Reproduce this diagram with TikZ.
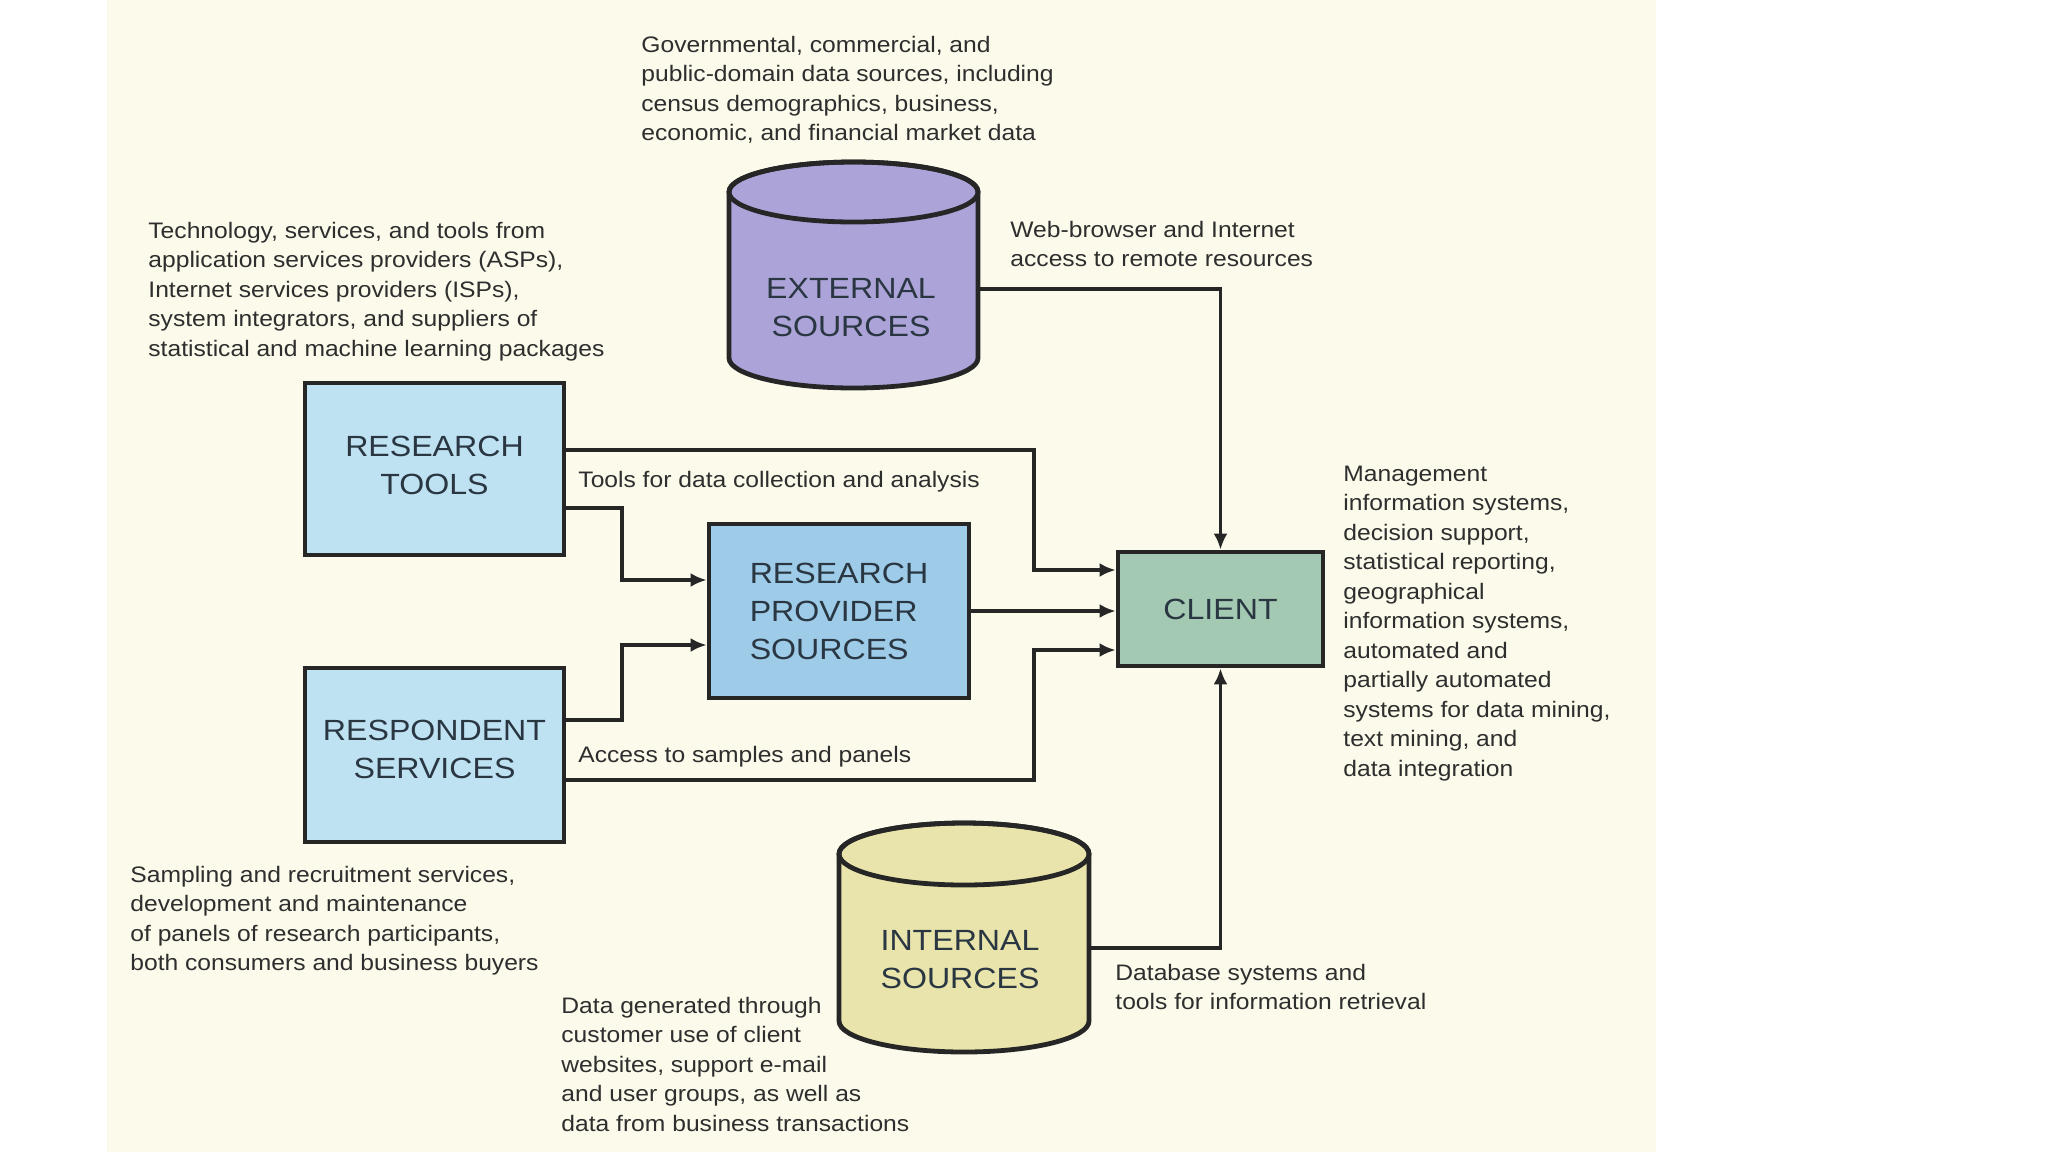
\documentclass[tikz,border=0pt]{standalone}
\usepackage{fontspec}
\setmainfont{Liberation Sans}[FakeStretch=1.1]
\usetikzlibrary{arrows.meta}
\definecolor{cream}{HTML}{FCFAEA}
\definecolor{rtblue}{HTML}{BFE2F3}
\definecolor{rpsblue}{HTML}{9DCBE8}
\definecolor{clientgreen}{HTML}{A3C9B2}
\definecolor{extpurple}{HTML}{ACA4D8}
\definecolor{intyellow}{HTML}{E8E4AB}
\definecolor{edge}{HTML}{262626}
\definecolor{txt}{HTML}{2E2E2E}
\definecolor{boxtxt}{HTML}{2A3742}
\begin{document}
\begin{tikzpicture}[x=0.5pt,y=-0.5pt,
  note/.style={anchor=north west, inner sep=0pt, align=left, font=\fontsize{11.2}{14.75}\selectfont, text=txt},
  box/.style={draw=edge, line width=2.4pt, inner sep=0pt, align=center, font=\fontsize{14.6}{19}\selectfont, text=boxtxt},
  cyltext/.style={inner sep=0pt, align=center, font=\fontsize{14.6}{19}\selectfont, text=boxtxt},
  cylbody/.style={draw=edge, line width=2.4pt},
  conn/.style={draw=edge, line width=1.8pt, -{Latex[length=8pt,width=7pt]}}]

\useasboundingbox (0,0) rectangle (2048,1152);
\fill[white] (0,0) rectangle (2048,1152);
\fill[cream] (107,0) rectangle (1656,1152);

% External sources cylinder
\filldraw[cylbody, fill=extpurple] (729,192) -- (729,358) arc[start angle=180,end angle=0,x radius=124.5,y radius=30] -- (978,192) arc[start angle=0,end angle=-180,x radius=124.5,y radius=30] -- cycle;
\draw[cylbody] (853.5,192) ellipse [x radius=124.5, y radius=30];
\node[cyltext] (ext) at (851,308) {EXTERNAL\\SOURCES};
\coordinate (ext-out) at (978,289);

% Internal sources cylinder
\filldraw[cylbody, fill=intyellow] (839,854) -- (839,1021) arc[start angle=180,end angle=0,x radius=125,y radius=31] -- (1089,854) arc[start angle=0,end angle=-180,x radius=125,y radius=31] -- cycle;
\draw[cylbody] (964,854) ellipse [x radius=125, y radius=31];
\node[cyltext] (int) at (960,960) {INTERNAL\\SOURCES};
\coordinate (int-out) at (1089,948);

% Boxes
\node[box, fill=rtblue, minimum width=129.5pt, minimum height=86pt, text depth=4pt] (rt) at (434.5,469) {RESEARCH\\TOOLS};
\node[box, fill=rtblue, minimum width=129.5pt, minimum height=87pt, text depth=6pt] (rs) at (434.5,755) {RESPONDENT\\SERVICES};
\node[box, fill=rpsblue, minimum width=130pt, minimum height=87pt, align=left] (rps) at (839,611) {RESEARCH\\PROVIDER\\SOURCES};
\node[box, fill=clientgreen, minimum width=102.5pt, minimum height=57pt] (client) at (1220.5,609) {CLIENT};

% helper levels
\coordinate (h450) at (0,450);
\coordinate (h570) at (0,570);
\coordinate (h508) at (0,508);
\coordinate (h580) at (0,580);
\coordinate (h720) at (0,720);
\coordinate (h645) at (0,645);
\coordinate (h780) at (0,780);
\coordinate (h650) at (0,650);

% Connectors
\draw[conn] (ext-out) -| (client.north);
\draw[conn] (int-out) -| (client.south);
\draw[conn] (rt.east |- h450) -- (1034,450) -- (1034,570) -- (client.west |- h570);
\draw[conn] (rt.east |- h508) -- (622,508) -- (622,580) -- (rps.west |- h580);
\draw[conn] (rs.east |- h720) -- (622,720) -- (622,645) -- (rps.west |- h645);
\draw[conn] (rps.east) -- (client.west |- rps.east);
\draw[conn] (rs.east |- h780) -- (1034,780) -- (1034,650) -- (client.west |- h650);

% Notes
\node[note] (gov) at (641,35.6) {Governmental, commercial, and\\public-domain data sources, including\\census demographics, business,\\economic, and financial market data};
\node[note] (tech) at (148,221.6) {Technology, services, and tools from\\application services providers (ASPs),\\Internet services providers (ISPs),\\system integrators, and suppliers of\\statistical and machine learning packages};
\node[note] (web) at (1010,220.6) {Web-browser and Internet\\access to remote resources};
\node[note] (tools) at (578,470.6) {Tools for data collection and analysis};
\node[note] (access) at (578,745.6) {Access to samples and panels};
\node[note] (mgmt) at (1343,465.6) {Management\\information systems,\\decision support,\\statistical reporting,\\geographical\\information systems,\\automated and\\partially automated\\systems for data mining,\\text mining, and\\data integration};
\node[note] (sampling) at (130,865.6) {Sampling and recruitment services,\\development and maintenance\\of panels of research participants,\\both consumers and business buyers};
\node[note] (datagen) at (561,996.6) {Data generated through\\customer use of client\\websites, support e-mail\\and user groups, as well as\\data from business transactions};
\node[note] (database) at (1115,963.6) {Database systems and\\tools for information retrieval};
\end{tikzpicture}
\end{document}
